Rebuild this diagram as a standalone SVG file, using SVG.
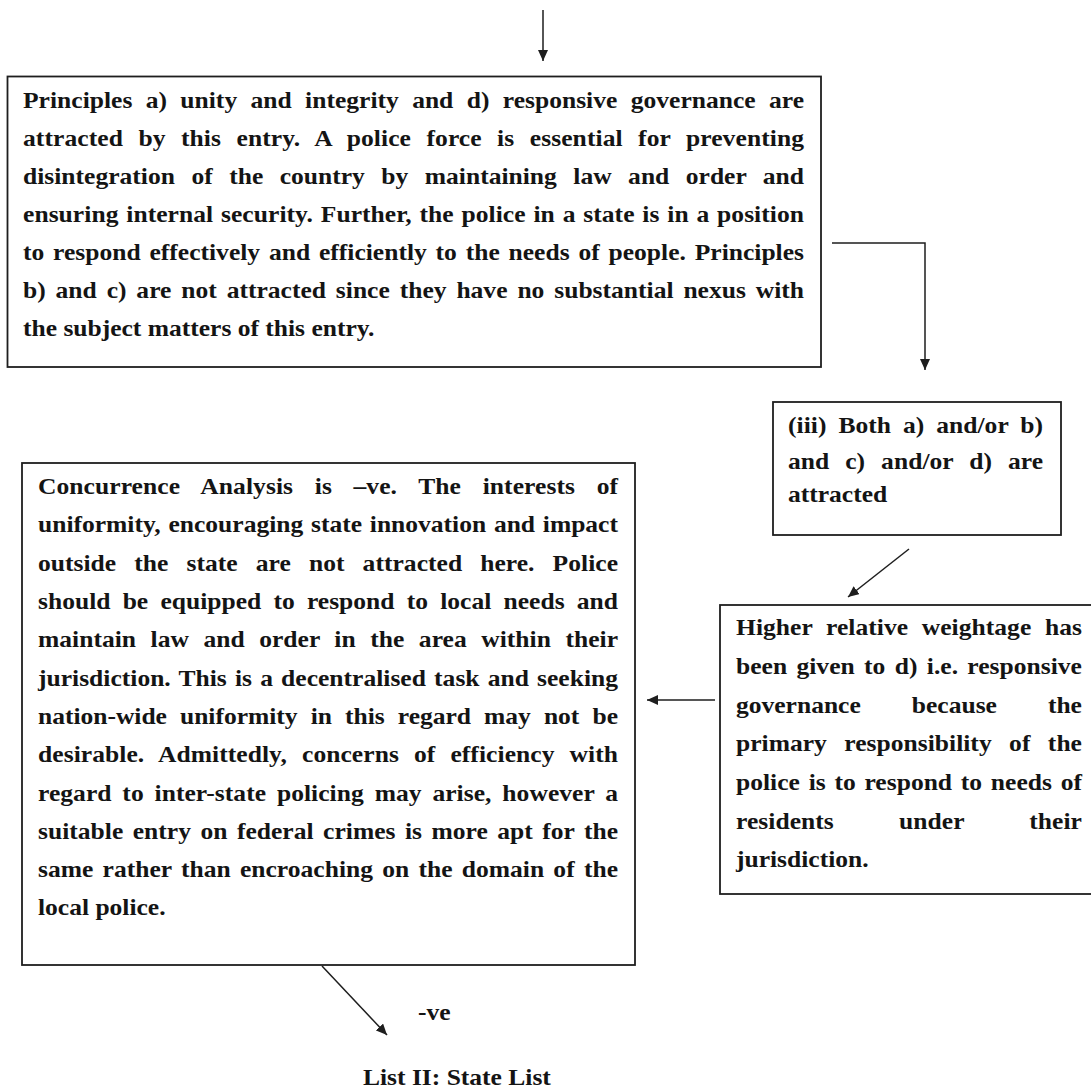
<svg xmlns="http://www.w3.org/2000/svg" width="1091" height="1090" viewBox="0 0 1091 1090">
  <style>
    .t { font-family: "Liberation Serif", "Times New Roman", serif; font-weight: bold; font-size: 22.5px; fill: #141414; }
    .box { fill: #ffffff; stroke: #1e1e1e; stroke-width: 1.8; }
    .conn { fill: none; stroke: #1e1e1e; stroke-width: 1.5; marker-end: url(#ah); }
  </style>
  <defs>
    <marker id="ah" markerUnits="userSpaceOnUse" markerWidth="12" markerHeight="10" refX="11" refY="5" orient="auto">
      <path d="M0,0 L11,5 L0,10 z" fill="#1e1e1e"/>
    </marker>
  </defs>

  <rect width="1091" height="1090" fill="#ffffff"/>

  <!-- connectors -->
  <g id="connectors">
    <line class="conn" x1="543" y1="10" x2="543" y2="61"/>
    <polyline class="conn" points="832,243 925,243 925,370"/>
    <line class="conn" x1="909" y1="549" x2="848" y2="597"/>
    <line class="conn" x1="715" y1="700" x2="647" y2="700"/>
    <line class="conn" x1="322" y1="966" x2="387" y2="1035"/>
  </g>

  <!-- principles box -->
  <g id="principles">
    <rect class="box" x="7.5" y="76.5" width="813.5" height="290.5"/>
    <g class="t" transform="translate(23,0) scale(1.135,1)">
      <text x="0" y="108" word-spacing="6.11" textLength="688.1" lengthAdjust="spacing">Principles a) unity and integrity and d) responsive governance are</text>
      <text x="0" y="146" word-spacing="7.88" textLength="688.1" lengthAdjust="spacing">attracted by this entry. A police force is essential for preventing</text>
      <text x="0" y="184" word-spacing="8.88" textLength="688.1" lengthAdjust="spacing">disintegration of the country by maintaining law and order and</text>
      <text x="0" y="222" word-spacing="1.19" textLength="688.1" lengthAdjust="spacing">ensuring internal security. Further, the police in a state is in a position</text>
      <text x="0" y="260" word-spacing="2.13" textLength="688.1" lengthAdjust="spacing">to respond effectively and efficiently to the needs of people. Principles</text>
      <text x="0" y="298" word-spacing="3.07" textLength="688.1" lengthAdjust="spacing">b) and c) are not attracted since they have no substantial nexus with</text>
      <text x="0" y="336">the subject matters of this entry.</text>
    </g>
  </g>

  <!-- option (iii) box -->
  <g id="option-iii">
    <rect class="box" x="773" y="402" width="288" height="133"/>
    <g class="t" transform="translate(788,0) scale(1.135,1)">
      <text x="0" y="433" word-spacing="4.92" textLength="224.7" lengthAdjust="spacing">(iii) Both a) and/or b)</text>
      <text x="0" y="469" word-spacing="8.36" textLength="224.7" lengthAdjust="spacing">and c) and/or d) are</text>
      <text x="0" y="502">attracted</text>
    </g>
  </g>

  <!-- weightage box -->
  <g id="weightage">
    <rect class="box" x="720" y="605" width="380" height="289"/>
    <g class="t" transform="translate(736,0) scale(1.135,1)">
      <text x="0" y="635" word-spacing="6.4" textLength="304.8" lengthAdjust="spacing">Higher relative weightage has</text>
      <text x="0" y="674" word-spacing="2.59" textLength="304.8" lengthAdjust="spacing">been given to d) i.e. responsive</text>
      <text x="0" y="713" word-spacing="39.3" textLength="304.8" lengthAdjust="spacing">governance because the</text>
      <text x="0" y="751" word-spacing="9.73" textLength="304.8" lengthAdjust="spacing">primary responsibility of the</text>
      <text x="0" y="790" word-spacing="2.05" textLength="304.8" lengthAdjust="spacing">police is to respond to needs of</text>
      <text x="0" y="829" word-spacing="51.8" textLength="304.8" lengthAdjust="spacing">residents under their</text>
      <text x="0" y="867">jurisdiction.</text>
    </g>
  </g>

  <!-- concurrence analysis box -->
  <g id="concurrence">
    <rect class="box" x="22" y="463" width="613" height="502"/>
    <g class="t" transform="translate(38,0) scale(1.135,1)">
      <text x="0" y="494" word-spacing="13.4" textLength="511" lengthAdjust="spacing">Concurrence Analysis is –ve. The interests of</text>
      <text x="0" y="532" word-spacing="1.18" textLength="511" lengthAdjust="spacing">uniformity, encouraging state innovation and impact</text>
      <text x="0" y="571" word-spacing="10.3" textLength="511" lengthAdjust="spacing">outside the state are not attracted here. Police</text>
      <text x="0" y="609" word-spacing="5.11" textLength="511" lengthAdjust="spacing">should be equipped to respond to local needs and</text>
      <text x="0" y="647" word-spacing="7.15" textLength="511" lengthAdjust="spacing">maintain law and order in the area within their</text>
      <text x="0" y="686" word-spacing="1.56" textLength="511" lengthAdjust="spacing">jurisdiction. This is a decentralised task and seeking</text>
      <text x="0" y="724" word-spacing="5.93" textLength="511" lengthAdjust="spacing">nation-wide uniformity in this regard may not be</text>
      <text x="0" y="762" word-spacing="7.58" textLength="511" lengthAdjust="spacing">desirable. Admittedly, concerns of efficiency with</text>
      <text x="0" y="801" word-spacing="3.9" textLength="511" lengthAdjust="spacing">regard to inter-state policing may arise, however a</text>
      <text x="0" y="839" word-spacing="2.69" textLength="511" lengthAdjust="spacing">suitable entry on federal crimes is more apt for the</text>
      <text x="0" y="877" word-spacing="2.47" textLength="511" lengthAdjust="spacing">same rather than encroaching on the domain of the</text>
      <text x="0" y="915">local police.</text>
    </g>
  </g>

  <!-- edge label -->
  <g id="label-negative" class="t" transform="translate(418,0) scale(1.135,1)">
    <text x="0" y="1020">-ve</text>
  </g>

  <!-- outcome -->
  <g id="state-list" class="t" transform="translate(363,0) scale(1.135,1)">
    <text x="0" y="1085">List II: State List</text>
  </g>
</svg>
